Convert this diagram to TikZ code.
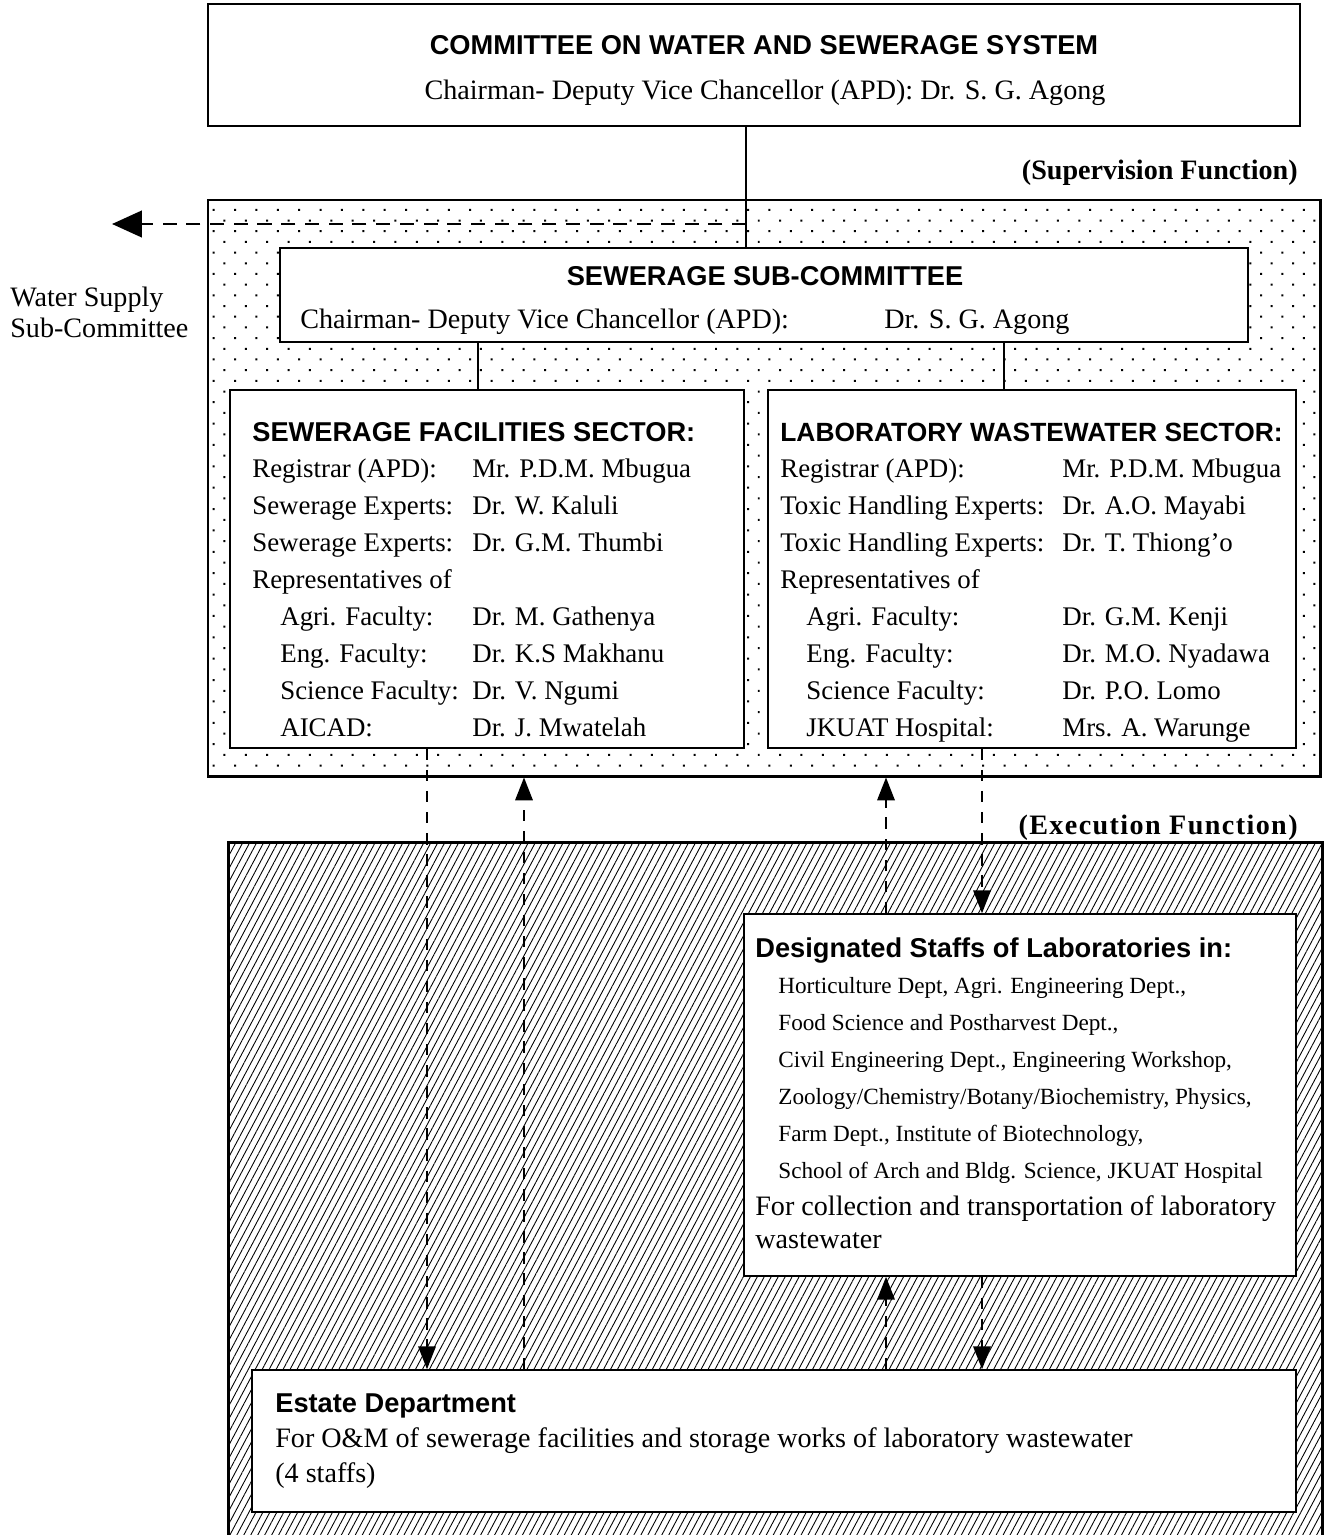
\documentclass[tikz,border=0pt]{standalone}
\usepackage{fontspec}
\setmainfont{Liberation Serif}
\setsansfont{Liberation Sans}
\usepackage{tikz}
\usetikzlibrary{arrows.meta,patterns.meta,fit}

\newcommand\hdr{\sffamily\bfseries\fontsize{15.5}{21}\selectfont}
\newcommand\txt{\fontsize{16}{21}\selectfont}
\newcommand\sectxt{\fontsize{15.3}{21}\selectfont}
\newcommand\sml{\fontsize{13.2}{20.8}\selectfont}
\newcommand\fnc{\bfseries\fontsize{16}{21}\selectfont}

\tikzset{
orgbox/.style={draw,line width=0.9pt,fill=white,inner sep=0pt},
zone/.style={inner sep=0pt},
txtblock/.style={inner sep=0pt,anchor=base west,font=\txt},
link/.style={line width=0.9pt},
feed/.style={line width=0.85pt,dash pattern=on 6.5pt off 5.5pt},
wsfeed/.style={line width=1.7pt,dash pattern=on 8pt off 5.5pt,-{Triangle[length=17pt,width=15pt]}}
}

\begin{document}
\begin{tikzpicture}[x=0.2mm,y=-0.2mm,>={Triangle[length=13pt,width=10pt]}]
\useasboundingbox (0,0) rectangle (1323,1535);

\node[zone,draw,line width=1.7pt,pattern={Dots[angle=45,distance=8.6pt,radius=0.8pt]},fit={(208,200)(1320,776)}](superv){};
\node[zone,pattern={Lines[angle=62,distance=3.5pt,line width=0.5pt]},fit={(229,843)(1322,1535)}](exec){};
\draw[line width=1.7pt](exec.south west)--(exec.north west)--(exec.north east)--(exec.south east);

\node[orgbox,fit={(208,4)(1300,126)}](comm){};
\node[orgbox,fit={(280,248)(1248,342)}](subcom){};
\node[orgbox,fit={(230,390)(744,748)}](sewsec){};
\node[orgbox,fit={(768,390)(1296,748)}](labsec){};
\node[orgbox,fit={(744,914)(1296,1276)}](labstaff){};
\node[orgbox,fit={(252,1370)(1296,1512)}](estate){};

\coordinate(trunk)at(746,0);
\coordinate(ls)at(478,0);
\coordinate(rs)at(1004,0);
\coordinate(c1)at(427,0);
\coordinate(c2)at(524,0);
\coordinate(c3)at(886,0);
\coordinate(c4)at(982,0);
\coordinate(ws)at(112,224);

\draw[link](comm.south -| trunk)--(subcom.north -| trunk);
\draw[link](subcom.south -| ls)--(sewsec.north -| ls);
\draw[link](subcom.south -| rs)--(labsec.north -| rs);
\draw[wsfeed](trunk |- ws)--(ws);

\draw[feed,->](sewsec.south -| c1)--(estate.north -| c1);
\draw[feed,->](estate.north -| c2)--(superv.south -| c2);
\draw[feed,->](labstaff.north -| c3)--(superv.south -| c3);
\draw[feed,->](labsec.south -| c4)--(labstaff.north -| c4);
\draw[feed,->](estate.north -| c3)--(labstaff.south -| c3);
\draw[feed,->](labstaff.south -| c4)--(estate.north -| c4);

\node[inner sep=0pt,anchor=base,font=\hdr](commtitle)at(764,55){COMMITTEE ON WATER AND SEWERAGE SYSTEM};
\node[inner sep=0pt,anchor=base,font=\txt](commchair)at(765,100){Chairman- Deputy Vice Chancellor (APD): Dr. S. G. Agong};

\node[inner sep=0pt,anchor=base east,font=\fnc](supfunc)at(1298,180){(Supervision Function)};
\node[inner sep=0pt,anchor=base east,font=\fnc](exefunc)at(1298,834){\addfontfeature{LetterSpace=5}(Execution Function)};

\node[txtblock](wstext)at(10,306){\begin{tabular}[t]{@{}l@{}}
Water Supply\\[-3pt]
Sub-Committee
\end{tabular}};

\node[inner sep=0pt,anchor=base,font=\hdr](subtitle)at(765,285){SEWERAGE SUB-COMMITTEE};
\node[txtblock](subchair)at(300,328){\begin{tabular}[t]{@{}p{116.8mm}@{}l@{}}
Chairman- Deputy Vice Chancellor (APD): & Dr. S. G. Agong
\end{tabular}};

\node[txtblock,font=\sectxt](sewtext)at(252,441){\begin{tabular}[t]{@{}p{44mm}@{}l@{}}
\multicolumn{2}{@{}l@{}}{\hdr SEWERAGE FACILITIES SECTOR:}\\
Registrar (APD): & Mr. P.D.M. Mbugua\\
Sewerage Experts: & Dr. W. Kaluli\\
Sewerage Experts: & Dr. G.M. Thumbi\\
Representatives of & \\
\hspace*{5.6mm}Agri. Faculty: & Dr. M. Gathenya\\
\hspace*{5.6mm}Eng. Faculty: & Dr. K.S Makhanu\\
\hspace*{5.6mm}Science Faculty: & Dr. V. Ngumi\\
\hspace*{5.6mm}AICAD: & Dr. J. Mwatelah
\end{tabular}};

\node[txtblock,font=\sectxt](labtext)at(780,441){\begin{tabular}[t]{@{}p{56.4mm}@{}l@{}}
\multicolumn{2}{@{}l@{}}{\hdr\fontsize{15}{21}\selectfont LABORATORY WASTEWATER SECTOR:}\\
Registrar (APD): & Mr. P.D.M. Mbugua\\
Toxic Handling Experts: & Dr. A.O. Mayabi\\
Toxic Handling Experts: & Dr. T. Thiong'o\\
Representatives of & \\
\hspace*{5.2mm}Agri. Faculty: & Dr. G.M. Kenji\\
\hspace*{5.2mm}Eng. Faculty: & Dr. M.O. Nyadawa\\
\hspace*{5.2mm}Science Faculty: & Dr. P.O. Lomo\\
\hspace*{5.2mm}JKUAT Hospital: & Mrs. A. Warunge
\end{tabular}};

\node[txtblock](stafftext)at(755,957){\begin{tabular}[t]{@{}l@{}}
{\hdr Designated Staffs of Laboratories in:}\\
\sml\hspace*{4.6mm}Horticulture Dept, Agri. Engineering Dept.,\\
\sml\hspace*{4.6mm}Food Science and Postharvest Dept.,\\
\sml\hspace*{4.6mm}Civil Engineering Dept., Engineering Workshop,\\
\sml\hspace*{4.6mm}Zoology/Chemistry/Botany/Biochemistry, Physics,\\
\sml\hspace*{4.6mm}Farm Dept., Institute of Biotechnology,\\
\sml\hspace*{4.6mm}School of Arch and Bldg. Science, JKUAT Hospital\\
For collection and transportation of laboratory\\[-2.3pt]
wastewater
\end{tabular}};

\node[txtblock](estatetext)at(275,1412){\begin{tabular}[t]{@{}l@{}}
{\hdr Estate Department}\\[-1pt]
For O\&M of sewerage facilities and storage works of laboratory wastewater\\[-1pt]
(4 staffs)
\end{tabular}};
\end{tikzpicture}
\end{document}
